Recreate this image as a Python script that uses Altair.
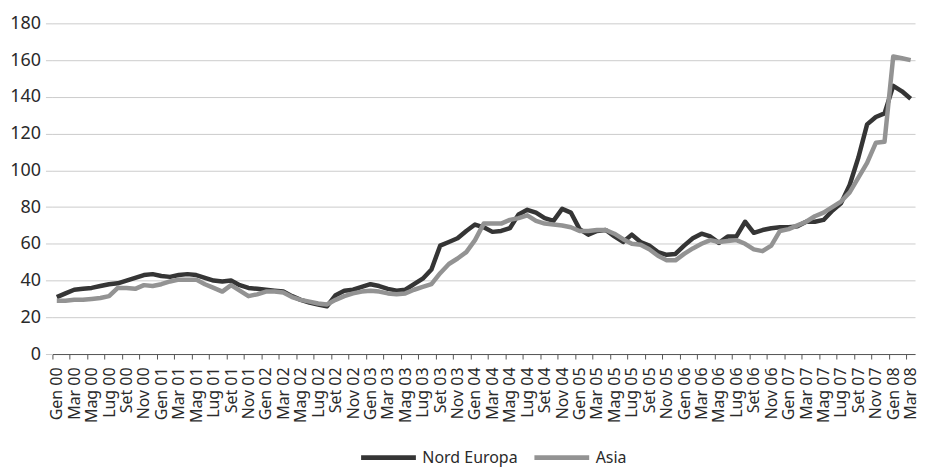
import altair as alt
import pandas as pd

mesi = ["Gen", "Feb", "Mar", "Apr", "Mag", "Giu", "Lug", "Ago", "Set", "Ott", "Nov", "Dic"]
anni = ["00", "01", "02", "03", "04", "05", "06", "07", "08"]
etichette = [f"{m} {a}" for a in anni for m in mesi][:99]

nord_europa = [
    31, 33, 35, 35.5, 36, 37, 38, 38.5, 40, 41.5, 43, 43.5,
    42.5, 42, 43, 43.5, 43, 41.5, 40, 39.5, 40, 37.5, 36, 35.5,
    35, 34.5, 34, 31.5, 29.5, 28, 27, 26, 32, 34.5, 35, 36.5,
    38, 37, 35.5, 34.5, 35, 38, 41, 46, 59, 61, 63, 67,
    70.5, 69, 66.5, 67, 68.5, 76, 78.5, 77, 74, 72.5, 79, 77,
    68, 65, 67, 67.5, 64, 61, 65, 61, 59, 55.5, 54, 54.5,
    59, 63, 65.5, 64, 60.5, 64, 64, 72, 66, 67.5, 68.5, 69,
    69, 69.5, 72, 72, 73, 78, 82, 92, 107, 125, 129, 131,
    146, 143, 139,
]

asia = [
    29, 29, 29.5, 29.5, 30, 30.5, 31.5, 36, 36, 35.5, 37.5, 37,
    38, 39.5, 40.5, 40.5, 40.5, 38, 36, 34, 37.5, 34.5, 31.5, 32.5,
    34, 34, 33.5, 31, 29.5, 28.5, 27.5, 27, 29.5, 31.5, 33, 34,
    34.5, 34, 33, 32.5, 33, 35, 36.5, 38, 44, 49, 52, 55.5,
    62, 71, 71, 71, 73, 74, 75.5, 72.5, 71, 70.5, 70, 69,
    67, 67, 67.5, 67.5, 65.5, 62.5, 60, 59.5, 57, 53.5, 51, 51,
    54.5, 57.5, 60, 62, 61, 61.5, 62, 60, 57, 56, 59, 67,
    68, 70, 72, 75, 77, 80, 83, 88, 96, 104, 115, 115.5,
    162, 161, 160,
]

serie = ["Nord Europa", "Asia"]
colori = ["#353535", "#939393"]
valori_y = list(range(0, 181, 20))
tick_labels = etichette[::2]

df = pd.DataFrame({
    "mese": etichette * 2,
    "serie": [serie[0]] * len(nord_europa) + [serie[1]] * len(asia),
    "valore": nord_europa + asia,
})

W = 866
H = 332
step = W / len(etichette)
FONT = "Noto Sans"

x_enc = alt.X(
    "mese:N",
    sort=etichette,
    scale=alt.Scale(type="point", padding=0.5),
    axis=alt.Axis(
        values=tick_labels,
        labelAngle=-90,
        tickOffset=-step / 2,
        labelOffset=step / 2,
        tickSize=5,
        tickColor="#555555",
        domainColor="#555555",
        labelPadding=8,
        labelFont=FONT,
        labelFontSize=16,
        labelColor="#2a2a2a",
        grid=False,
        title=None,
    ),
)

y_enc = alt.Y(
    "valore:Q",
    scale=alt.Scale(domain=[0, 180], nice=False),
    axis=alt.Axis(
        values=valori_y,
        grid=True,
        gridColor="#cccccc",
        domain=False,
        ticks=True,
        tickSize=7,
        tickColor="#cccccc",
        labelPadding=5,
        labelFont=FONT,
        labelFontSize=18,
        labelColor="#2a2a2a",
        title=None,
    ),
)

color_enc = alt.Color(
    "serie:N",
    scale=alt.Scale(domain=serie, range=colori),
    legend=alt.Legend(
        orient="none",
        direction="horizontal",
        legendX=307.4,
        legendY=406,
        title=None,
        symbolType="stroke",
        symbolSize=3025,
        symbolStrokeWidth=5,
        labelFont=FONT,
        labelFontSize=16,
        labelColor="#2a2a2a",
        labelOffset=4,
        columnPadding=6,
        padding=0,
    ),
)

base = alt.Chart(df).encode(x=x_enc, y=y_enc, color=color_enc)

linea_ne = base.transform_filter(alt.datum.serie == serie[0]).mark_line(
    strokeWidth=4.5, strokeJoin="round"
)
linea_asia = base.transform_filter(alt.datum.serie == serie[1]).mark_line(
    strokeWidth=4.5, strokeJoin="round"
)

chart = (
    alt.layer(linea_ne, linea_asia)
    .properties(
        width=W,
        height=H,
        autosize=alt.AutoSizeParams(type="none"),
        padding={"left": 44.6, "top": 14.5, "right": 5, "bottom": 113},
        background="white",
    )
    .configure_view(stroke=None)
)

chart.save("out.html", embed_options={"renderer": "svg", "actions": False})
